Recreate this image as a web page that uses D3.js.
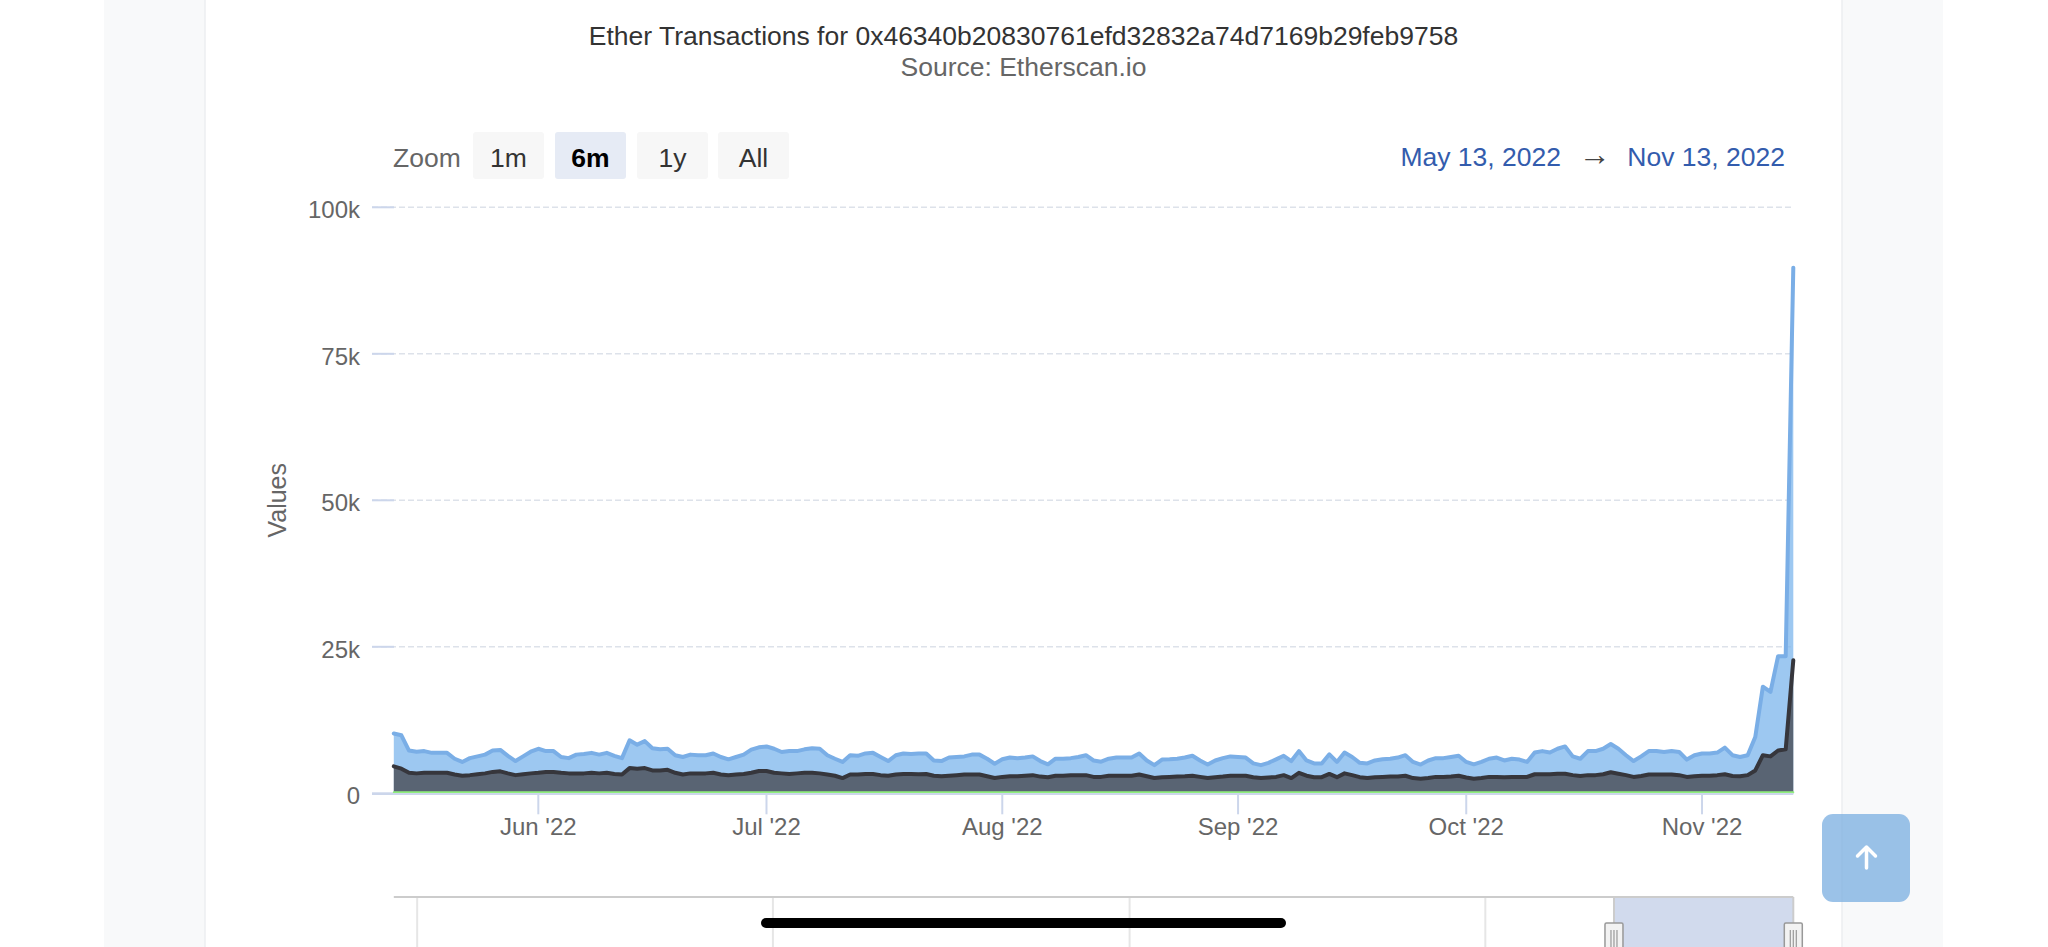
<!DOCTYPE html>
<html><head><meta charset="utf-8">
<script src="https://cdn.jsdelivr.net/npm/d3@7"></script>
<style>
html,body{margin:0;padding:0;background:#fff;overflow:hidden}
svg{display:block;font-family:"Liberation Sans",Arial,Helvetica,sans-serif}
</style></head><body>
<svg id="chart" width="2048" height="947"></svg>
<script>
// ---------- DATA ----------
const chartTitle = "Ether Transactions for 0x46340b20830761efd32832a74d7169b29feb9758";
const chartSubtitle = "Source: Etherscan.io";
const startDate = "2022-05-13";
const endDate = "2022-11-13";
const navigatorStart = "2018-12-08";

// upper (light blue) series, daily
const totalTxns = [
10200,9900,7300,7100,7200,6900,6900,6900,5900,5350,6000,6300,6600,7300,7400,6400,5500,6300,7100,7600,
7200,7200,6200,6000,6600,6700,6900,6600,6900,6400,6000,9050,8300,8900,7700,7500,7600,6500,6200,6600,
6500,6500,6800,6200,5800,6200,6600,7450,7850,8000,7600,7050,7200,7200,7500,7700,7600,6500,5900,5350,
6500,6400,6800,6900,6200,5500,6500,6800,6700,6800,6800,5600,5500,6100,6200,6300,6600,6600,5900,5050,
5800,6100,6000,6100,6300,5500,4950,5900,5900,6000,6200,6500,5600,5400,5900,6100,6100,6100,6800,5600,
4800,5750,5800,5900,6100,6400,5600,4900,5600,6000,6300,6200,6100,5100,4800,5200,5800,6400,5500,7200,
5600,5100,5100,6650,5350,6950,6200,5200,5100,5600,5800,5900,6100,6500,5350,4900,5600,6000,6000,6200,
6400,5350,4950,5350,5900,6100,5600,5900,5750,5350,6950,7200,6950,7600,8000,6300,5900,7200,7200,7600,
8400,7600,6500,5500,6300,7200,7200,7050,7200,7050,5750,6500,6800,6800,6950,7800,6500,6200,6500,9600,
18200,17300,23400,23400,89700
];
// middle (dark grey) series, daily
const darkTxns = [
4600,4200,3500,3400,3500,3500,3500,3500,3200,3000,3100,3250,3400,3650,3750,3400,3100,3250,3400,3500,
3650,3650,3500,3400,3400,3400,3500,3400,3500,3300,3200,4300,4200,4300,3900,3900,4000,3500,3200,3400,
3400,3400,3500,3200,3100,3200,3300,3500,3800,3800,3500,3400,3300,3400,3500,3500,3400,3200,3000,2600,
3200,3200,3300,3300,3100,3000,3200,3300,3300,3250,3300,3000,2900,3000,3100,3200,3200,3200,2900,2600,
2800,2900,2900,3000,3100,2850,2750,3000,3000,3100,3100,3100,2800,2800,3000,3000,3000,3000,3200,2900,
2600,2750,2800,2850,2900,3000,2800,2600,2750,2850,3000,3000,3000,2750,2600,2700,2800,3100,2600,3500,
3000,2750,2750,3300,2750,3400,3100,2750,2600,2750,2800,2850,2850,3000,2600,2500,2600,2800,2800,2850,
3000,2700,2500,2600,2800,2800,2750,2800,2800,2800,3250,3250,3250,3350,3350,3100,2950,3100,3100,3250,
3600,3350,3100,2800,2950,3200,3200,3200,3200,3100,2800,2900,3000,3000,3100,3250,2950,2900,3100,3900,
6500,6300,7300,7500,22700
];
// bottom (green) series, daily - sits on the baseline
const greenTxns = [
200,200,200,200,200,200,200,200,200,200,200,200,200,200,200,200,200,200,200,200,
200,200,200,200,200,200,200,200,200,200,200,200,200,200,200,200,200,200,200,200,
200,200,200,200,200,200,200,200,200,200,200,200,200,200,200,200,200,200,200,200,
200,200,200,200,200,200,200,200,200,200,200,200,200,200,200,200,200,200,200,200,
200,200,200,200,200,200,200,200,200,200,200,200,200,200,200,200,200,200,200,200,
200,200,200,200,200,200,200,200,200,200,200,200,200,200,200,200,200,200,200,200,
200,200,200,200,200,200,200,200,200,200,200,200,200,200,200,200,200,200,200,200,
200,200,200,200,200,200,200,200,200,200,200,200,200,200,200,200,200,200,200,200,
200,200,200,200,200,200,200,200,200,200,200,200,200,200,200,200,200,200,200,200,
200,200,200,200,200
];
const yTickValues = [0, 25000, 50000, 75000, 100000];
const yTickLabels = ["0", "25k", "50k", "75k", "100k"];
const yAxisTitle = "Values";
const zoomButtons = ["1m", "6m", "1y", "All"];
const selectedZoom = "6m";
const rangeFromLabel = "May 13, 2022";
const rangeToLabel = "Nov 13, 2022";

// ---------- LAYOUT ----------
const W = 2048, H = 947;
const plot = {left: 393.8, right: 1793.3, top: 207.3, bottom: 793.3};
const svg = d3.select("#chart");
const parse = d3.utcParse("%Y-%m-%d");
const d0 = parse(startDate), d1 = parse(endDate);
const dates = d3.utcDay.range(d0, d3.utcDay.offset(d1, 1));

const x = d3.scaleUtc().domain([d0, d1]).range([plot.left, plot.right]);
const y = d3.scaleLinear().domain([0, 100000]).range([plot.bottom, plot.top]);

// page background (card between grey side bands)
svg.append("rect").attr("width", W).attr("height", H).attr("fill", "#ffffff");
svg.append("rect").attr("x", 104).attr("y", 0).attr("width", 101).attr("height", H).attr("fill", "#f8f9fa");
svg.append("rect").attr("x", 1842).attr("y", 0).attr("width", 101).attr("height", H).attr("fill", "#f8f9fa");
svg.append("line").attr("x1", 205).attr("x2", 205).attr("y1", 0).attr("y2", H).attr("stroke", "#eceef1").attr("stroke-width", 1.5);
svg.append("line").attr("x1", 1842).attr("x2", 1842).attr("y1", 0).attr("y2", H).attr("stroke", "#eceef1").attr("stroke-width", 1.5);

// titles
svg.append("text").attr("x", 1023.5).attr("y", 45).attr("text-anchor", "middle")
  .attr("font-size", 26.5).attr("fill", "#333333").text(chartTitle);
svg.append("text").attr("x", 1023.5).attr("y", 76).attr("text-anchor", "middle")
  .attr("font-size", 26.5).attr("fill", "#666666").text(chartSubtitle);

// range selector
const rs = svg.append("g");
rs.append("text").attr("x", 393).attr("y", 166.5).attr("font-size", 26.5).attr("fill", "#666666").text("Zoom");
const btnX = [473, 555, 637, 718];
zoomButtons.forEach((b, i) => {
  const sel = b === selectedZoom;
  rs.append("rect").attr("x", btnX[i]).attr("y", 132).attr("width", 71).attr("height", 47).attr("rx", 3)
    .attr("fill", sel ? "#e6ebf5" : "#f7f7f7");
  rs.append("text").attr("x", btnX[i] + 35.5).attr("y", 166.5).attr("text-anchor", "middle")
    .attr("font-size", 26.5).attr("font-weight", sel ? "bold" : "normal")
    .attr("fill", sel ? "#000000" : "#333333").text(b);
});
rs.append("text").attr("x", 1561).attr("y", 166).attr("text-anchor", "end").attr("font-size", 26.5)
  .attr("fill", "#335cad").text(rangeFromLabel);
rs.append("text").attr("x", 1594.5).attr("y", 165).attr("text-anchor", "middle").attr("font-size", 32)
  .attr("fill", "#444444").text("\u2192");
rs.append("text").attr("x", 1785).attr("y", 166).attr("text-anchor", "end").attr("font-size", 26.5)
  .attr("fill", "#335cad").text(rangeToLabel);

// grid lines + y ticks
const grid = svg.append("g");
yTickValues.forEach((v, i) => {
  if (v !== 0) {
    grid.append("line").attr("x1", 372).attr("x2", plot.right).attr("y1", y(v)).attr("y2", y(v))
      .attr("stroke", "#dde2ea").attr("stroke-width", 1.5).attr("stroke-dasharray", "6,3");
  }
  grid.append("line").attr("x1", 372).attr("x2", 394).attr("y1", y(v)).attr("y2", y(v))
    .attr("stroke", "#ccd6eb").attr("stroke-width", 2);
  grid.append("text").attr("x", 360).attr("y", y(v) + 11).attr("text-anchor", "end")
    .attr("font-size", 24).attr("fill", "#666666").text(yTickLabels[i]);
});
svg.append("text").attr("transform", `translate(286,${(plot.top + plot.bottom) / 2}) rotate(-90)`)
  .attr("text-anchor", "middle").attr("font-size", 25).attr("fill", "#666666").text(yAxisTitle);

// series (overlapping areas, drawn in order)
const series = [
  {values: totalTxns, line: "#7aaee6", fill: "#7cb5ec", width: 4},
  {values: darkTxns, line: "#36363c", fill: "#434348", width: 4},
  {values: greenTxns, line: "#90ed7d", fill: "#90ed7d", width: 2}
];
const sg = svg.append("g");
series.forEach(s => {
  const pts = dates.map((d, i) => [d, s.values[i]]);
  const area = d3.area().x(p => x(p[0])).y0(y(0)).y1(p => y(p[1]));
  const line = d3.line().x(p => x(p[0])).y(p => y(p[1]));
  sg.append("path").attr("d", area(pts)).attr("fill", s.fill).attr("fill-opacity", 0.75);
  sg.append("path").attr("d", line(pts)).attr("fill", "none").attr("stroke", s.line)
    .attr("stroke-width", s.width).attr("stroke-linejoin", "round").attr("stroke-linecap", "round");
});

// x axis
svg.append("line").attr("x1", 372).attr("x2", plot.right).attr("y1", plot.bottom + 0.8).attr("y2", plot.bottom + 0.8)
  .attr("stroke", "#ccd6eb").attr("stroke-width", 2);
const months = d3.utcMonth.range(d3.utcMonth.ceil(d0), d1);
const fmt = d3.utcFormat("%b '%y");
months.forEach(m => {
  svg.append("line").attr("x1", x(m)).attr("x2", x(m)).attr("y1", plot.bottom + 1).attr("y2", plot.bottom + 21)
    .attr("stroke", "#ccd6eb").attr("stroke-width", 2);
  svg.append("text").attr("x", x(m)).attr("y", 835).attr("text-anchor", "middle")
    .attr("font-size", 24).attr("fill", "#666666").text(fmt(m));
});

// navigator
const nx = d3.scaleUtc().domain([parse(navigatorStart), d1]).range([plot.left, plot.right]);
const nav = svg.append("g");
nav.append("rect").attr("x", nx(d0)).attr("y", 897).attr("width", nx(d1) - nx(d0)).attr("height", 60)
  .attr("fill", "rgb(102,133,194)").attr("fill-opacity", 0.3);
d3.utcYear.range(d3.utcYear.ceil(parse(navigatorStart)), d1).forEach(yr => {
  nav.append("line").attr("x1", nx(yr)).attr("x2", nx(yr)).attr("y1", 897).attr("y2", H)
    .attr("stroke", "#e6e6e6").attr("stroke-width", 2);
});
nav.append("line").attr("x1", plot.left).attr("x2", plot.right).attr("y1", 897).attr("y2", 897)
  .attr("stroke", "#cccccc").attr("stroke-width", 2);
[d0, d1].forEach(d => {
  const hx = nx(d);
  nav.append("line").attr("x1", hx).attr("x2", hx).attr("y1", 897).attr("y2", H).attr("stroke", "#cccccc").attr("stroke-width", 2);
  nav.append("rect").attr("x", hx - 9).attr("y", 923).attr("width", 18).attr("height", 40).attr("rx", 1.5)
    .attr("fill", "#f2f2f2").attr("stroke", "#999999").attr("stroke-width", 1.5);
  [-3, 0, 3].forEach(o => nav.append("line").attr("x1", hx + o).attr("x2", hx + o).attr("y1", 930).attr("y2", H)
    .attr("stroke", "#999999").attr("stroke-width", 1.2));
});

// scroll-to-top button
svg.append("rect").attr("x", 1822).attr("y", 814).attr("width", 88).attr("height", 88).attr("rx", 11)
  .attr("fill", "#7aaee0").attr("fill-opacity", 0.75);
svg.append("path").attr("d", "M1866.5,868 L1866.5,847 M1857.5,856 L1866.5,847 L1875.5,856")
  .attr("fill", "none").attr("stroke", "#ffffff").attr("stroke-width", 3.5).attr("stroke-linecap", "round").attr("stroke-linejoin", "round");

// home indicator bar
svg.append("rect").attr("x", 761).attr("y", 918).attr("width", 525).attr("height", 10).attr("rx", 5).attr("fill", "#000000");
</script>
</body></html>
